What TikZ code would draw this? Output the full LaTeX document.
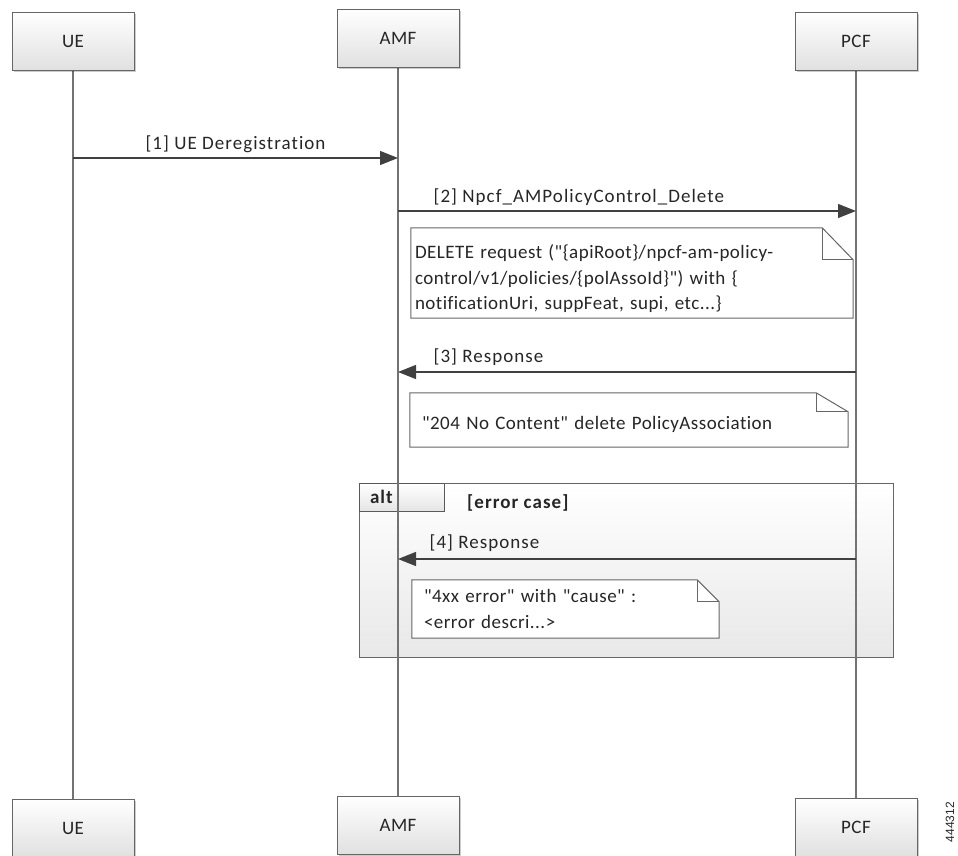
\documentclass[tikz,border=0pt]{standalone}
\usepackage{fontspec}
\setmainfont{Carlito}[Ligatures={TeXOff,CommonOff}]
\newfontfamily\lblfont{Carlito}[Ligatures={TeXOff,CommonOff}, LetterSpace=5.5]
\newfontfamily\notefont{Carlito}[Ligatures={TeXOff,CommonOff}, LetterSpace=2.5]
\newfontfamily\idfont{Liberation Sans}
\usetikzlibrary{arrows.meta,shadows}
\pgfdeclarelayer{bg}
\pgfdeclarelayer{notebg}
\pgfsetlayers{bg,notebg,main}
\tikzset{
  actor/.style={draw=black!60, line width=1pt, top color=white, bottom color=black!12,
    minimum width=122pt, minimum height=58pt, inner sep=0pt, text=black!85,
    font=\notefont\fontsize{19}{22}\selectfont,
    drop shadow={shadow xshift=1.5pt, shadow yshift=-1.5pt, fill=black, opacity=0.2}},
  lifeline/.style={draw=black!55, line width=1.4pt},
  msg/.style={draw=black!75, line width=1.3pt, -{Triangle[length=18pt,width=14pt]}},
  msglabel/.style={font=\lblfont\fontsize{19}{22}\selectfont, text=black!85, inner sep=0pt},
  notetext/.style={font=\notefont\fontsize{19}{25.5}\selectfont, text=black!85, align=left,
    inner ysep=0pt},
  noteline/.style={draw=black!60, line width=1pt, fill=white},
  altframe/.style={draw=black!60, line width=1pt, top color=white, bottom color=black!9,
    inner sep=0pt},
  alttab/.style={draw=black!65, line width=1pt, top color=white, bottom color=black!10,
    minimum height=28pt, text width=63pt, inner xsep=11pt, inner ysep=0pt, align=left,
    font=\lblfont\bfseries\fontsize{19}{22}\selectfont, text=black!85},
  guard/.style={font=\lblfont\bfseries\fontsize{19}{22}\selectfont, text=black!85, inner sep=0pt},
}
\newcommand\dognote[3]{%
  \begin{pgfonlayer}{notebg}
  \draw[noteline] (#1.north west) -- ([xshift=-#2]#1.north east)
     -- ([yshift=-#3]#1.north east) -- (#1.south east) -- (#1.south west) -- cycle;
  \draw[noteline, fill=none] ([xshift=-#2]#1.north east)
     -- ([xshift=-#2,yshift=-#3]#1.north east) -- ([yshift=-#3]#1.north east);
  \end{pgfonlayer}}
\begin{document}
\begin{tikzpicture}[x=1pt,y=-1pt]
\useasboundingbox (0,0) rectangle (958,855);
% actors
\node[actor] (ueT) at (73,41) {UE};
\node[actor] (amfT) at (398,38) {AMF};
\node[actor] (pcfT) at (856,41) {PCF};
\node[actor] (ueB) at (73,828) {UE};
\node[actor] (amfB) at (398,825) {AMF};
\node[actor] (pcfB) at (856,827) {PCF};
% alt frame and lifelines
\begin{pgfonlayer}{bg}
\node[altframe, minimum width=534pt, minimum height=174pt] (alt) at (626,570) {};
\node[alttab, anchor=north west] (tab) at (alt.north west) {alt};
\draw[lifeline] (ueT) -- (ueB);
\draw[lifeline] (amfT) -- (amfB);
\draw[lifeline] (pcfT) -- (pcfB);
\end{pgfonlayer}
\node[guard, anchor=west] (grd) at (467,503) {[error case]};
% messages
\coordinate (m1a) at (ueT |- 0,158);
\coordinate (m1b) at (amfT |- 0,158);
\draw[msg] (m1a) -- node[msglabel, pos=0.5, anchor=base, yshift=9pt] {{[1]} UE Deregistration} (m1b);
\coordinate (m2a) at (amfT |- 0,211);
\coordinate (m2b) at (pcfT |- 0,211);
\draw[msg] (m2a) -- node[msglabel, at start, anchor=base west, xshift=35pt, yshift=9pt] {{[2]} Npcf\_AMPolicyControl\_Delete} (m2b);
\coordinate (m3a) at (pcfT |- 0,372);
\coordinate (m3b) at (amfT |- 0,372);
\draw[msg] (m3a) -- node[msglabel, at end, anchor=base west, xshift=35pt, yshift=10pt] {{[3]} Response} (m3b);
\coordinate (m4a) at (pcfT |- 0,559);
\coordinate (m4b) at (amfT |- 0,559);
\draw[msg] (m4a) -- node[msglabel, at end, anchor=base west, xshift=31pt, yshift=11pt] {{[4]} Response} (m4b);
% notes
\node[notetext, minimum width=442pt, minimum height=90pt, text width=434pt, inner xsep=4pt] (n1) at (632,273)
  {\rule{0pt}{26pt}DELETE request ("\{apiRoot\}/npcf-am-policy-\\control/v1/policies/\{polAssoId\}") with \{\\notificationUri, suppFeat, supi, etc...\}};
\dognote{n1}{31pt}{32pt}
\node[notetext, minimum width=438pt, minimum height=54pt, text width=414pt, inner xsep=12pt, text height=20pt, text depth=1pt] (n2) at (629,420)
  {"204 No Content" delete PolicyAssociation};
\dognote{n2}{32pt}{19pt}
\node[notetext, minimum width=307pt, minimum height=58pt, text width=283pt, inner xsep=12pt] (n3) at (565.5,609)
  {"4xx error" with "cause" :\\<error descri...>};
\dognote{n3}{22pt}{22pt}
% figure id
\node[font=\idfont\fontsize{12}{14}\selectfont, rotate=90, text=black!85, inner sep=0pt] (fid) at (950,822) {444312};
\end{tikzpicture}
\end{document}
